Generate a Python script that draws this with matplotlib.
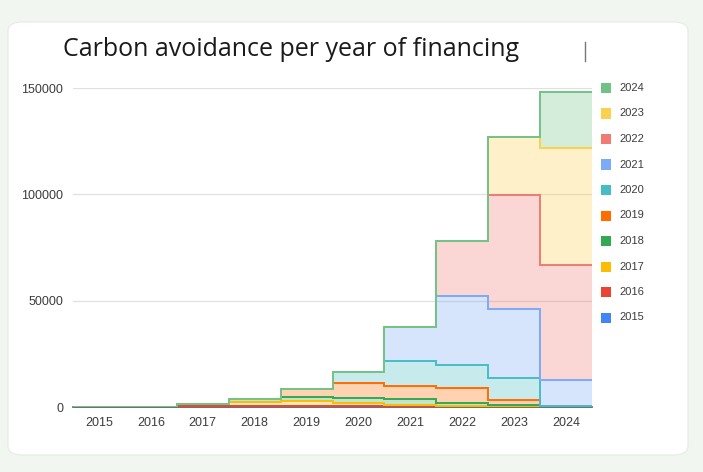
import numpy as np
import matplotlib
matplotlib.use("Agg")
import matplotlib.pyplot as plt
from matplotlib.patches import FancyBboxPatch

# categories on the x axis (year of avoidance) and one series per year of financing
categories = ['2015', '2016', '2017', '2018', '2019', '2020', '2021', '2022', '2023', '2024']
series_names = ['2015', '2016', '2017', '2018', '2019', '2020', '2021', '2022', '2023', '2024']

s2015 = [80, 80, 80, 80, 80, 60, 0, 0, 0, 0]
s2016 = [0, 150, 300, 300, 400, 300, 150, 0, 0, 0]
s2017 = [0, 0, 900, 2000, 2200, 1400, 800, 300, 0, 0]
s2018 = [0, 0, 0, 1400, 2200, 2650, 2650, 1500, 800, 600]
s2019 = [0, 0, 0, 0, 3800, 6700, 6400, 6900, 2400, 0]
s2020 = [0, 0, 0, 0, 0, 5450, 11600, 10900, 10300, 0]
s2021 = [0, 0, 0, 0, 0, 0, 16100, 32500, 32700, 12300]
s2022 = [0, 0, 0, 0, 0, 0, 0, 25900, 53300, 53800]
s2023 = [0, 0, 0, 0, 0, 0, 0, 0, 27400, 54900]
s2024 = [0, 0, 0, 0, 0, 0, 0, 0, 0, 26600]

all_series = [s2015, s2016, s2017, s2018, s2019, s2020, s2021, s2022, s2023, s2024]

colors = ['#4285F4', '#EA4335', '#FBBC04', '#34A853', '#FF6D01',
          '#46BDC6', '#7BAAF7', '#F07B72', '#FCD04F', '#71C287']

plt.rcParams['font.family'] = ['Liberation Sans', 'DejaVu Sans']

fig = plt.figure(figsize=(7.03, 4.72), dpi=100)
fig.patch.set_facecolor('#f1f6f0')

# white card behind the chart
card = FancyBboxPatch((8 / 703, 1 - 455 / 472), 680 / 703, 433 / 472,
                      boxstyle='round,pad=0,rounding_size=0.02',
                      transform=fig.transFigure, facecolor='white',
                      edgecolor='#e6ebe5', linewidth=0.8, zorder=-10)
fig.patches.append(card)

fig.text(63 / 703, 1 - 49 / 472, 'Carbon avoidance per year of financing',
         fontsize=18, family=['Open Sans', 'DejaVu Sans'], color='#1a1a1a',
         va='center', ha='left')
fig.add_artist(plt.Line2D([585 / 703, 585 / 703], [1 - 42 / 472, 1 - 61 / 472],
                          transform=fig.transFigure, color='#777777', lw=1))

ax = fig.add_axes([73 / 703, 1 - 407 / 472, (592 - 73) / 703, (407 - 88) / 472])
ax.set_facecolor('none')

edges = np.arange(len(categories) + 1) - 0.5
base = np.zeros(len(categories))
tops = []
for vals, col in zip(all_series, colors):
    top = base + np.array(vals, dtype=float)
    ax.stairs(top, edges, baseline=base.copy(), fill=True, color=col, alpha=0.3,
              linewidth=0, zorder=2)
    tops.append(top)
    base = top
for top, col in zip(tops, colors):
    ax.stairs(top, edges, baseline=None, color=col, linewidth=1.4, zorder=3)

ax.set_xlim(-0.5, len(categories) - 0.5)
ax.set_ylim(0, 150000)
ax.set_yticks([0, 50000, 100000, 150000])
ax.set_yticklabels(['0', '50000', '100000', '150000'])
ax.set_xticks(range(len(categories)))
ax.set_xticklabels(categories)
ax.tick_params(axis='both', length=0, labelsize=9, colors='#3c3c3c')
ax.tick_params(axis='x', pad=7)
ax.tick_params(axis='y', pad=7)
ax.grid(axis='y', color='#e0e0e0', linewidth=0.9, zorder=0)
ax.set_axisbelow(True)
for sp in ['top', 'right', 'left']:
    ax.spines[sp].set_visible(False)
ax.spines['bottom'].set_color('#555555')
ax.spines['bottom'].set_linewidth(1.2)
ax.spines['bottom'].set_zorder(1)

# legend, newest year on top
for i, (name, col) in enumerate(reversed(list(zip(series_names, colors)))):
    y = 1 - (88 + i * 25.5) / 472
    fig.patches.append(FancyBboxPatch((601 / 703, y - 5 / 472), 10 / 703, 10 / 472,
                                      boxstyle='square,pad=0', transform=fig.transFigure,
                                      facecolor=col, edgecolor='none', zorder=5))
    fig.text(619 / 703, y, name, fontsize=8, color='#3c3c3c', va='center', ha='left')

fig.savefig('out.png', dpi=100, facecolor=fig.get_facecolor())
